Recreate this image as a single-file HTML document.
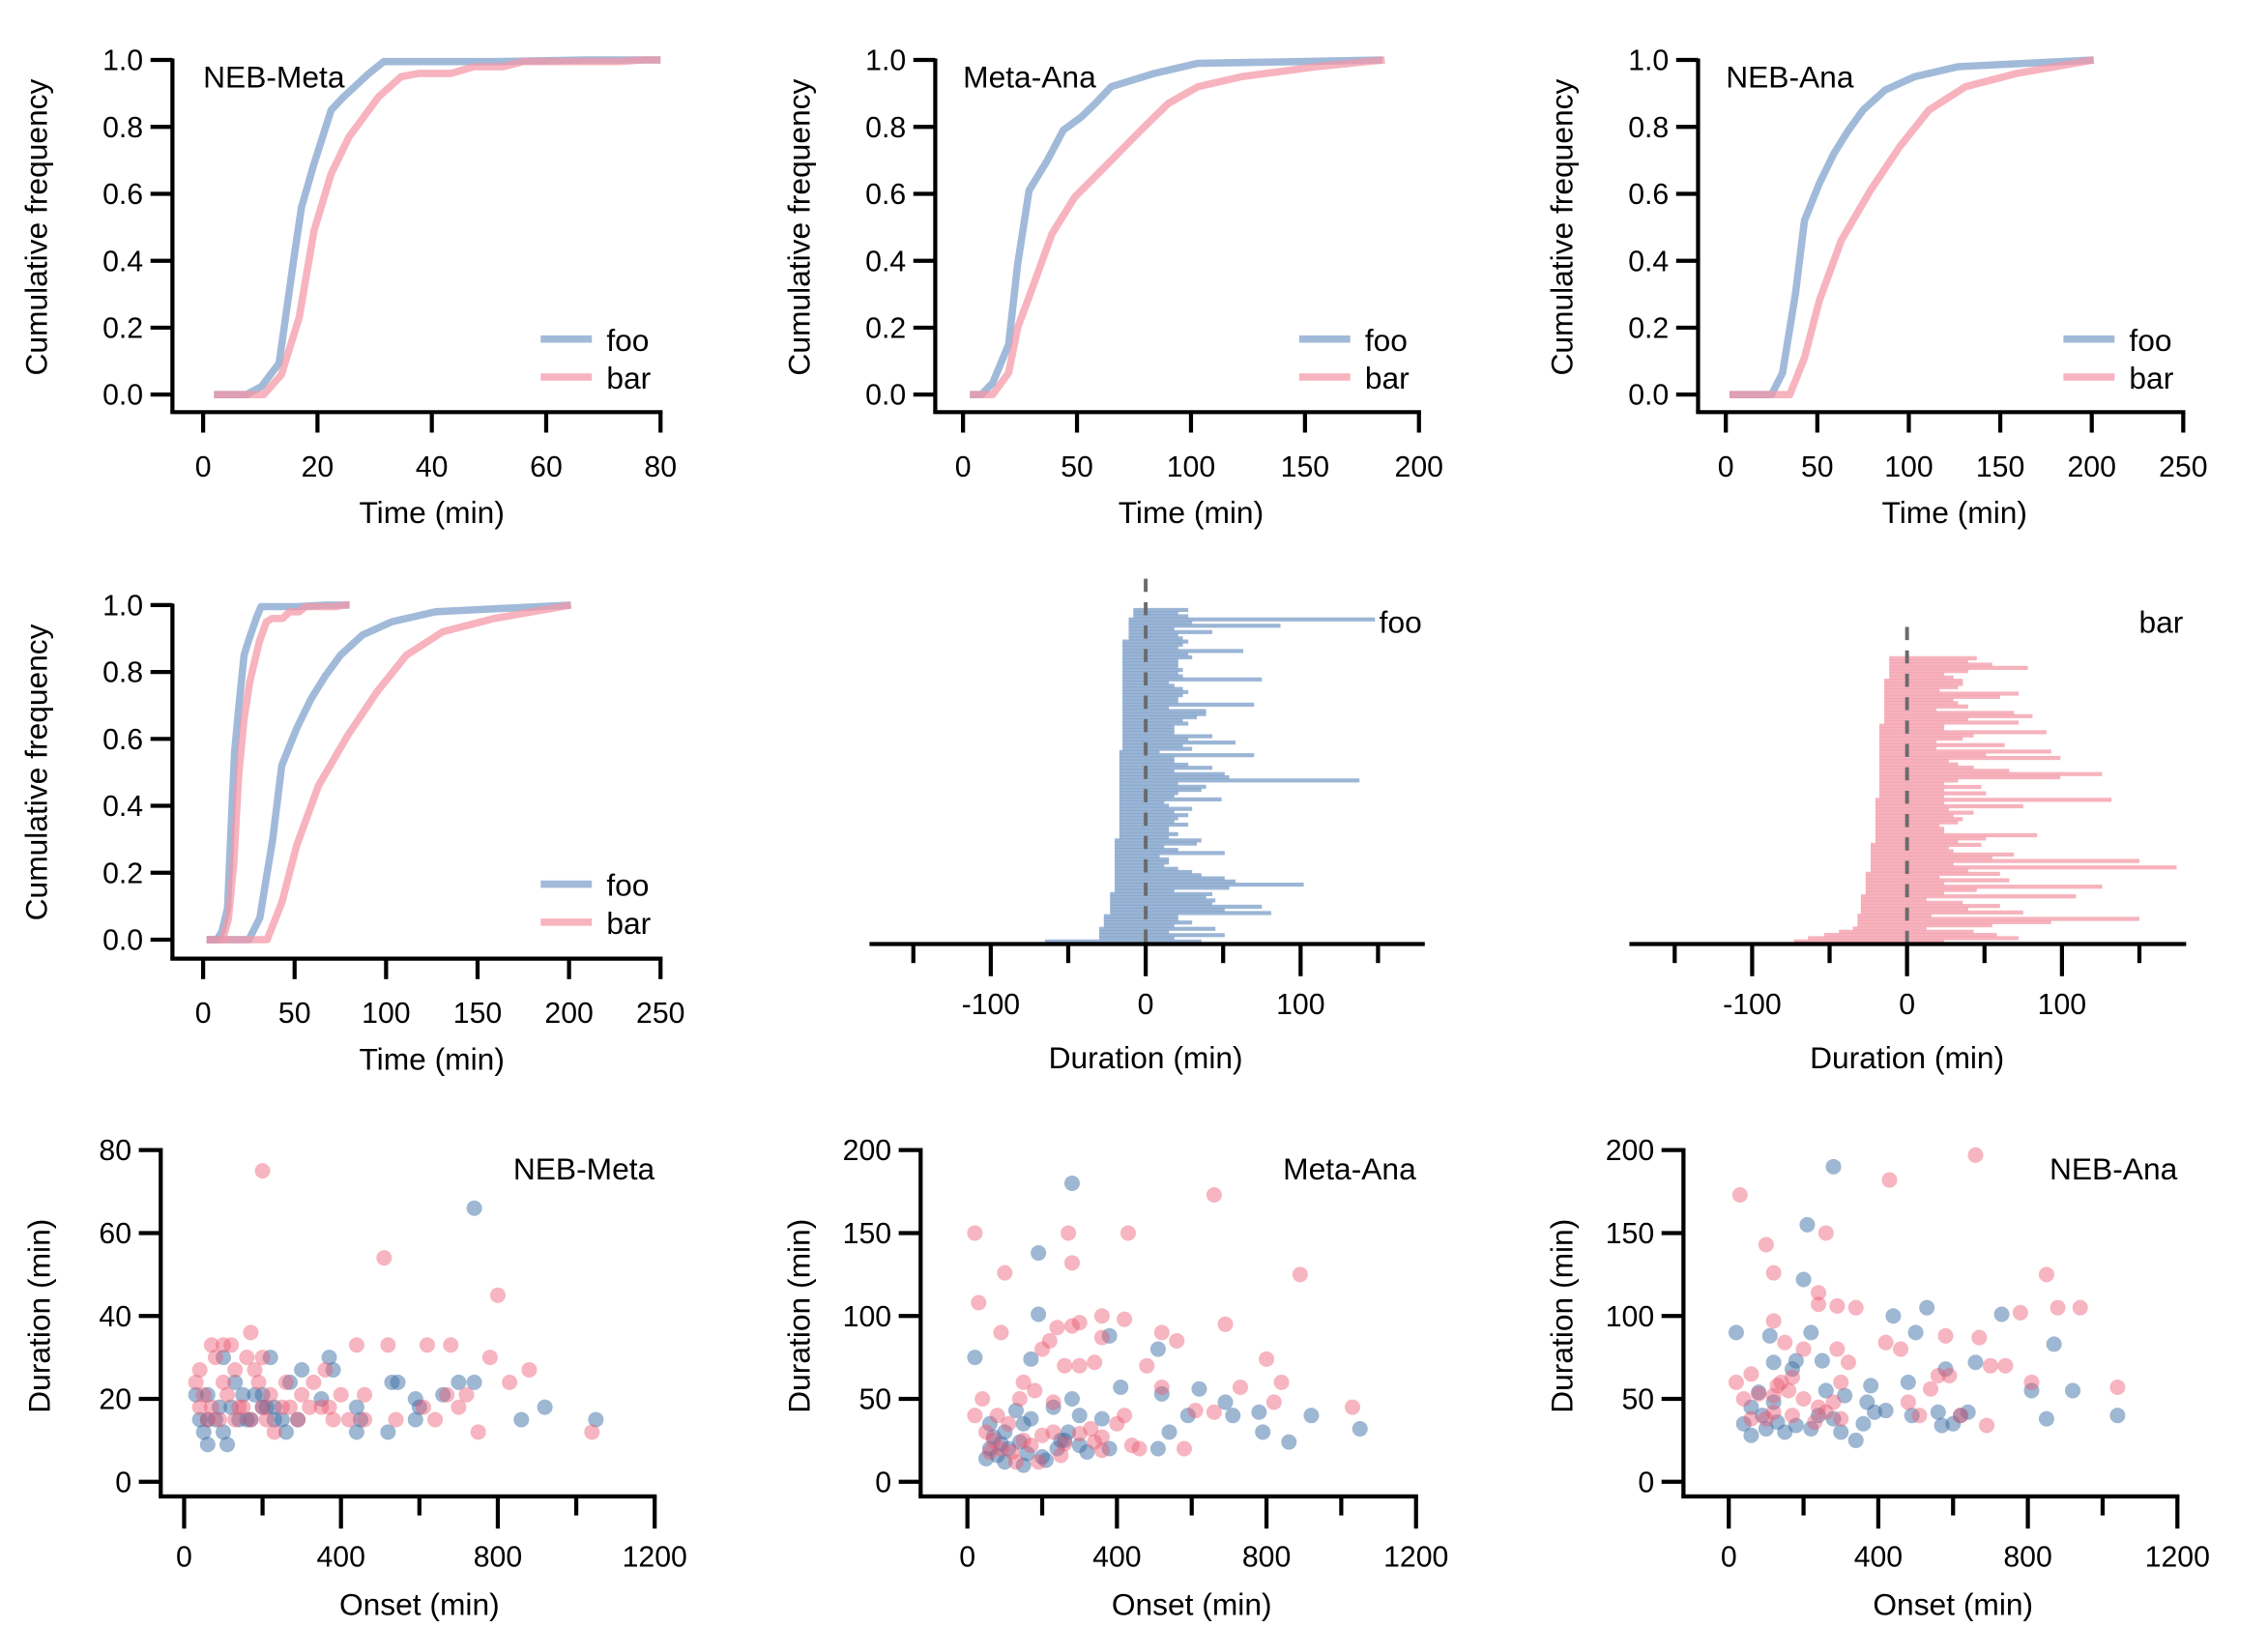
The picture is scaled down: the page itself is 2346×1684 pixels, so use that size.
<!DOCTYPE html>
<html><head><meta charset="utf-8"><style>
html,body{margin:0;padding:0;background:#fff;}
svg{display:block;}
text{font-family:"Liberation Sans",Arial,sans-serif;fill:#000;}
</style></head><body>
<svg id="fig" width="2346" height="1684" viewBox="0 0 1552 1114" xmlns="http://www.w3.org/2000/svg"></svg>
<script>
// ---- CDF data (x in min, y cumulative frequency) ----
const nmFooX=[1.9,7.6,10.2,13.3,15.9,17.2,19.4,22.4,24.6,29,31.6,51.7,67,80];
const nmFooY=[0,0,0.024,0.094,0.41,0.56,0.69,0.85,0.89,0.96,0.995,0.995,1,1];
const nmBarX=[1.9,10.6,13.7,16.8,19.4,22.4,25.5,30.7,34.6,37.7,43.4,47.3,52.5,56,72.6,77,80];
const nmBarY=[0,0,0.06,0.23,0.49,0.66,0.77,0.89,0.95,0.96,0.96,0.98,0.98,0.995,0.995,1,1];
const maFooX=[3,8,13,20,24,29,37,44,52,58,65,84,103,148,184];
const maFooY=[0,0,0.035,0.15,0.39,0.61,0.7,0.79,0.83,0.87,0.92,0.96,0.99,0.995,1];
const maBarX=[3,13,20,24,31,39,49,65,78,90,103,122,155,185];
const maBarY=[0,0,0.065,0.2,0.33,0.48,0.59,0.7,0.79,0.87,0.92,0.95,0.98,1];
const naFooX=[2,25,31,38,43,51,59,67,75,87,103,127,201];
const naFooY=[0,0,0.065,0.3,0.52,0.63,0.72,0.79,0.85,0.91,0.95,0.98,1];
const naBarX=[2,35,43,51,63,79,95,111,131,159,201];
const naBarY=[0,0,0.11,0.28,0.46,0.61,0.74,0.85,0.92,0.96,1];
// ---- duration bars ----
const fooLeft=[-8,-8,-8,-11,-11,-11,-11,-11,-11,-11,
-15,-15,-15,-15,-15,-15,-15,-15,-15,-15,-15,-15,-15,-15,-15,-15,-15,-15,-15,-15,-15,-15,-15,-15,-15,-15,-15,-15,-15,-15,-15,-15,-15,-15,-15,
-17,-17,-17,-17,-17,-17,-17,-17,-17,-17,-17,-17,-17,-17,-17,-17,-17,-17,-17,-17,-17,-17,-17,-17,-17,-17,-17,-17,
-20,-20,-20,-20,-20,-20,-20,-20,-20,-20,-20,-20,-20,-20,-20,-20,-20,
-23,-23,-23,-23,-23,-23,-23,-27,-27,-27,-27,-30,-30,-30,-30,-65];
const fooRight=[27.5,21,27.5,148,30,87,18.5,43,21,24,27.5,24,21,63,27.5,30,21,21,21,24,21,24,75,15,18.5,24,27.5,24,21,21,70,15,39,39,33,24,27.5,18.5,18.5,18.5,43,27.5,58,24,30,9,70,18.5,18.5,27.5,43,18.5,51,54,138,21,39,36,21,18.5,49,12,15,30,18.5,27.5,21,18.5,27.5,15,15,21,15,36,33,12,21,51,9,15,15,12,21,30,36,51,58,102,54,18.5,43,39,45,43,75,51,81,21,21,30,18.5,45,15,51,18.5,36];
const barLeft=[-11.5,-11.5,-11.5,-11.5,-11.5,-11.5,-11.5,
-14.7,-14.7,-14.7,-14.7,-14.7,-14.7,-14.7,-14.7,-14.7,-14.7,-14.7,-14.7,-14.7,-14.7,
-17.9,-17.9,-17.9,-17.9,-17.9,-17.9,-17.9,-17.9,-17.9,-17.9,-17.9,-17.9,-17.9,-17.9,-17.9,-17.9,-17.9,-17.9,-17.9,-17.9,-17.9,-17.9,-17.9,
-20.4,-20.4,-20.4,-20.4,-20.4,-20.4,-20.4,-20.4,-20.4,-20.4,-20.4,-20.4,-20.4,-20.4,
-23.5,-23.5,-23.5,-23.5,-23.5,-23.5,-23.5,-23.5,-23.5,
-26.7,-26.7,-26.7,-26.7,-26.7,-26.7,-26.7,
-29.8,-29.8,-29.8,-29.8,-29.8,-29.8,-32,-32,-32,-32,-35,-44,-53.6,-64,-73];
const barRight=[45,39.5,55,78,39.5,24,30,36,36,33,21,72,60,30,33,39.5,19,69,81,39.5,72,24,24,90,43,36,19,63,19,93,51,99,27,33,43,66,126,99,33,24,48,24,51,24,132,24,75,27,43,30,36,33,21,24,24,84,51,33,48,27,30,69,55,150,30,174,39.5,60,21,66,24,126,45,24,109,12.6,36,60,39.5,75,15.8,150,93,55,12.6,43,58,72,24];
// ---- scatter data [onset, duration] ----
const gBlue=[[740,66],[920,18],[1050,15],[860,15],[530,24],[545,24],[700,24],[660,21],[740,24],[590,15],[600,18],[590,20],[370,30],[380,27],[300,27],[270,24],[290,15],[250,15],[260,12],[440,12],[450,15],[440,18],[200,21],[150,21],[120,18],[80,15],[60,15],[50,12],[40,15],[30,21],[100,12],[110,9],[140,15],[160,15],[180,21],[60,9],[200,18],[210,18],[230,18],[130,24],[100,30],[220,30],[520,12],[350,20],[60,21],[90,18],[170,15],[230,15]];
const gPink=[[200,75],[510,54],[800,45],[680,33],[880,27],[830,24],[620,33],[520,33],[440,33],[780,30],[170,36],[100,33],[120,33],[70,33],[80,30],[40,27],[30,24],[50,21],[100,24],[130,27],[160,30],[200,30],[180,27],[190,24],[260,24],[330,24],[360,27],[400,21],[460,21],[350,18],[320,18],[300,21],[250,18],[200,18],[150,18],[110,21],[70,18],[60,15],[90,15],[130,15],[170,15],[210,15],[270,18],[290,15],[380,15],[420,15],[540,15],[610,18],[640,15],[750,12],[1040,12],[460,15],[230,12],[140,18],[40,18],[220,21],[370,18],[670,21],[720,21],[700,18]];
const hBlue=[[280,180],[190,138],[170,74],[20,75],[190,101],[380,88],[280,50],[410,57],[300,40],[510,80],[520,53],[590,40],[540,30],[620,56],[690,48],[710,40],[780,42],[790,30],[360,38],[230,45],[150,35],[100,30],[70,27],[60,20],[80,16],[50,14],[100,12],[150,10],[200,15],[240,20],[250,25],[170,38],[130,43],[320,18],[380,20],[270,30],[260,25],[210,13],[90,23],[140,24],[860,24],[920,40],[1050,32],[510,20],[160,17],[110,20],[60,35],[300,22]];
const hPink=[[20,150],[100,126],[30,108],[270,150],[280,132],[660,173],[430,150],[890,125],[90,90],[360,100],[420,98],[300,96],[280,94],[240,93],[200,80],[220,85],[260,70],[300,70],[340,72],[360,87],[480,70],[520,90],[560,85],[690,95],[800,74],[840,60],[520,57],[730,57],[610,43],[660,42],[820,48],[1030,45],[180,55],[150,60],[230,48],[110,35],[80,40],[40,50],[20,40],[50,30],[70,25],[90,20],[120,18],[150,25],[170,22],[200,28],[230,30],[260,23],[300,29],[360,27],[420,40],[440,22],[460,20],[340,24],[360,19],[580,20],[190,12],[60,18],[130,12],[250,16],[330,32],[400,35],[140,50]];
const iBlue=[[280,190],[210,155],[200,122],[20,90],[110,88],[220,90],[440,100],[530,105],[580,68],[730,101],[810,55],[870,83],[920,55],[1040,40],[850,38],[660,72],[640,42],[500,90],[480,60],[490,40],[250,73],[180,73],[170,68],[120,72],[80,54],[120,48],[60,45],[40,35],[60,28],[100,32],[150,30],[180,34],[220,32],[240,40],[280,38],[300,30],[340,25],[360,35],[310,52],[370,48],[380,58],[390,42],[420,43],[560,42],[570,34],[600,35],[620,40],[260,55],[90,40],[130,36]];
const iPink=[[30,173],[660,197],[430,182],[260,150],[100,143],[120,126],[850,125],[120,97],[290,106],[240,107],[340,105],[240,114],[580,88],[670,87],[700,70],[740,70],[780,102],[560,64],[590,64],[510,40],[620,40],[880,105],[940,105],[420,84],[460,80],[540,56],[480,48],[690,34],[1040,57],[810,60],[300,60],[290,80],[150,84],[170,63],[130,58],[60,65],[20,60],[40,50],[80,53],[120,52],[160,55],[200,50],[240,45],[260,42],[280,48],[300,38],[230,36],[170,40],[120,42],[60,38],[100,38],[320,72],[200,80],[140,60]];
const cdfYTicks=[0,0.2,0.4,0.6,0.8,1.0];
const cdfYTickLabels=["0.0","0.2","0.4","0.6","0.8","1.0"];

const NS="http://www.w3.org/2000/svg";
const svg=document.getElementById('fig');
function mk(tag,attrs,parent){const e=document.createElementNS(NS,tag);for(const k in attrs)e.setAttribute(k,attrs[k]);(parent||svg).appendChild(e);return e;}
function txt(s,x,y,size,anchor,parent,rot){const t=mk('text',{x:x,y:y,'font-size':size,'text-anchor':anchor||'middle'},parent);if(rot)t.setAttribute('transform','rotate(-90 '+x+' '+y+')');t.textContent=s;return t;}
const FOO='rgba(125,160,202,0.72)',BAR='rgba(244,150,165,0.72)';

function cdfPanel(name,ax,top,bottom,axisY,x0,x1,xmax,xticks,label,series){
  const g=mk('g',{});
  
  
  const sx=v=>x0+(x1-x0)*v/xmax, sy=v=>bottom-(bottom-top)*v;
  series.forEach(s=>{
    const pts=s.x.map((v,i)=>sx(v).toFixed(1)+','+sy(s.y[i]).toFixed(1)).join(' ');
    const p=mk('polyline',{points:pts,fill:'none',stroke:s.c,'stroke-width':5,'stroke-linejoin':'round'},g);
    
    
  });
  const ya=mk('line',{x1:ax,y1:top-1,x2:ax,y2:axisY,stroke:'#000','stroke-width':2.8},g);
  
  
  cdfYTicks.forEach((v,i)=>{mk('line',{x1:ax-15,y1:sy(v),x2:ax,y2:sy(v),stroke:'#000','stroke-width':2.8},g);txt(cdfYTickLabels[i],ax-20,sy(v)+7,20,'end',g);});
  const xa=mk('line',{x1:ax-1.4,y1:axisY,x2:x1+1.4,y2:axisY,stroke:'#000','stroke-width':2.8},g);
  
  
  xticks.forEach(v=>{mk('line',{x1:sx(v),y1:axisY,x2:sx(v),y2:axisY+14,stroke:'#000','stroke-width':2.8},g);txt(String(v),sx(v),axisY+44,20,'middle',g);});
  const xt=txt('Time (min)',(x0+x1)/2,axisY+76,21,'middle',g);
  
  const yt=txt('Cumulative frequency',ax-86,(top+bottom)/2,21,'middle',g,true);
  
  if(label){const l=txt(label,x0,top+19,21,'start',g);}
  const ly=bottom-38;
  [['foo',FOO],['bar',BAR]].forEach((e,i)=>{
    const le=mk('g',{},g);
    
    
    mk('line',{x1:x1-82,y1:ly+i*26,x2:x1-47,y2:ly+i*26,stroke:e[1],'stroke-width':5},le);
    txt(e[0],x1-37,ly+i*26+8,21,'start',le);
  });
}
cdfPanel('cdf-neb-meta',118,41,270,282,139,452,80,[0,20,40,60,80],'NEB-Meta',[{x:nmFooX,y:nmFooY,c:FOO,n:'foo-line'},{x:nmBarX,y:nmBarY,c:BAR,n:'bar-line'}]);
cdfPanel('cdf-meta-ana',640,41,270,282,659,971,200,[0,50,100,150,200],'Meta-Ana',[{x:maFooX,y:maFooY,c:FOO,n:'foo-line'},{x:maBarX,y:maBarY,c:BAR,n:'bar-line'}]);
cdfPanel('cdf-neb-ana',1162,41,270,282,1181,1494,250,[0,50,100,150,200,250],'NEB-Ana',[{x:naFooX,y:naFooY,c:FOO,n:'foo-line'},{x:naBarX,y:naBarY,c:BAR,n:'bar-line'}]);
cdfPanel('cdf-combined',118,414,643,656,139,452,250,[0,50,100,150,200,250],null,[
 {x:naFooX,y:naFooY,c:FOO,n:'foo-long-line'},{x:naBarX,y:naBarY,c:BAR,n:'bar-long-line'},
 {x:nmFooX,y:nmFooY,c:FOO,n:'foo-short-line'},{x:nmBarX,y:nmBarY,c:BAR,n:'bar-short-line'}]);

function durPanel(name,zeroX,ax0,ax1,top,bottom,axisY,left,right,color,label){
  const g=mk('g',{});
  
  
  const k=1.06, sx=v=>zeroX+k*v;
  const n=left.length, h=(bottom-top)/n;
  for(let i=0;i<n;i++){
    const r=mk('rect',{x:sx(left[i]),y:top+i*h,width:sx(right[i])-sx(left[i]),height:h+0.6,fill:color},g);
    
    
  }
  const d=mk('line',{x1:zeroX,y1:top-20,x2:zeroX,y2:axisY,stroke:'#6b6b6b','stroke-width':2.6,'stroke-dasharray':'9,7'},g);
  
  
  const xa=mk('line',{x1:ax0,y1:axisY,x2:ax1,y2:axisY,stroke:'#000','stroke-width':2.8},g);
  
  
  [-150,-100,-50,0,50,100,150].forEach(v=>{
    const major=v%100===0;
    mk('line',{x1:sx(v),y1:axisY,x2:sx(v),y2:axisY+(major?22:13),stroke:'#000','stroke-width':2.8},g);
    if(major)txt(String(v),sx(v),axisY+48,20,'middle',g);
  });
  const xt=txt('Duration (min)',zeroX,axisY+85,21,'middle',g);
  
  const l=txt(label,ax1-2,top===416?433:433,21,'end',g);
  
}
durPanel('duration-foo',784,595,975,416,645,646,fooLeft,fooRight,'rgba(130,163,203,0.8)','foo');
durPanel('duration-bar',1305,1115,1496,449,645,646,barLeft,barRight,'rgba(244,160,172,0.8)','bar');

function scatPanel(name,ax,x0,x1,top,bottom,axisY,ymax,yticks,label,blue,pink){
  const g=mk('g',{});
  
  
  const sx=v=>x0+(x1-x0)*v/1200, sy=v=>bottom-(bottom-top)*v/ymax;
  [[blue,'rgba(62,112,166,0.5)','point-foo'],[pink,'rgba(236,92,115,0.45)','point-bar']].forEach(s=>{
    s[0].forEach(p=>{
      const c=mk('circle',{cx:sx(p[0]),cy:sy(p[1]),r:5.3,fill:s[1]},g);
      
      
    });
  });
  const ya=mk('line',{x1:ax,y1:top-1.4,x2:ax,y2:axisY,stroke:'#000','stroke-width':2.8},g);
  
  
  yticks.forEach(v=>{mk('line',{x1:ax-15,y1:sy(v),x2:ax,y2:sy(v),stroke:'#000','stroke-width':2.8},g);txt(String(v),ax-20,sy(v)+7,20,'end',g);});
  const xa=mk('line',{x1:ax-1.4,y1:axisY,x2:x1+1.4,y2:axisY,stroke:'#000','stroke-width':2.8},g);
  
  
  [0,200,400,600,800,1000,1200].forEach(v=>{
    const major=v%400===0;
    mk('line',{x1:sx(v),y1:axisY,x2:sx(v),y2:axisY+(major?22:13),stroke:'#000','stroke-width':2.8},g);
    if(major)txt(String(v),sx(v),axisY+48,20,'middle',g);
  });
  const xt=txt('Onset (min)',(x0+x1)/2,axisY+81,21,'middle',g);
  
  const yt=txt('Duration (min)',ax-76,(top+bottom)/2,21,'middle',g,true);
  
  const l=txt(label,x1,top+20,21,'end',g);
  
}
scatPanel('scatter-neb-meta',110,126,448,787,1014,1024,80,[0,20,40,60,80],'NEB-Meta',gBlue,gPink);
scatPanel('scatter-meta-ana',630,662,969,787,1014,1024,200,[0,50,100,150,200],'Meta-Ana',hBlue,hPink);
scatPanel('scatter-neb-ana',1152,1183,1490,787,1014,1024,200,[0,50,100,150,200],'NEB-Ana',iBlue,iPink);
</script>
</body></html>
